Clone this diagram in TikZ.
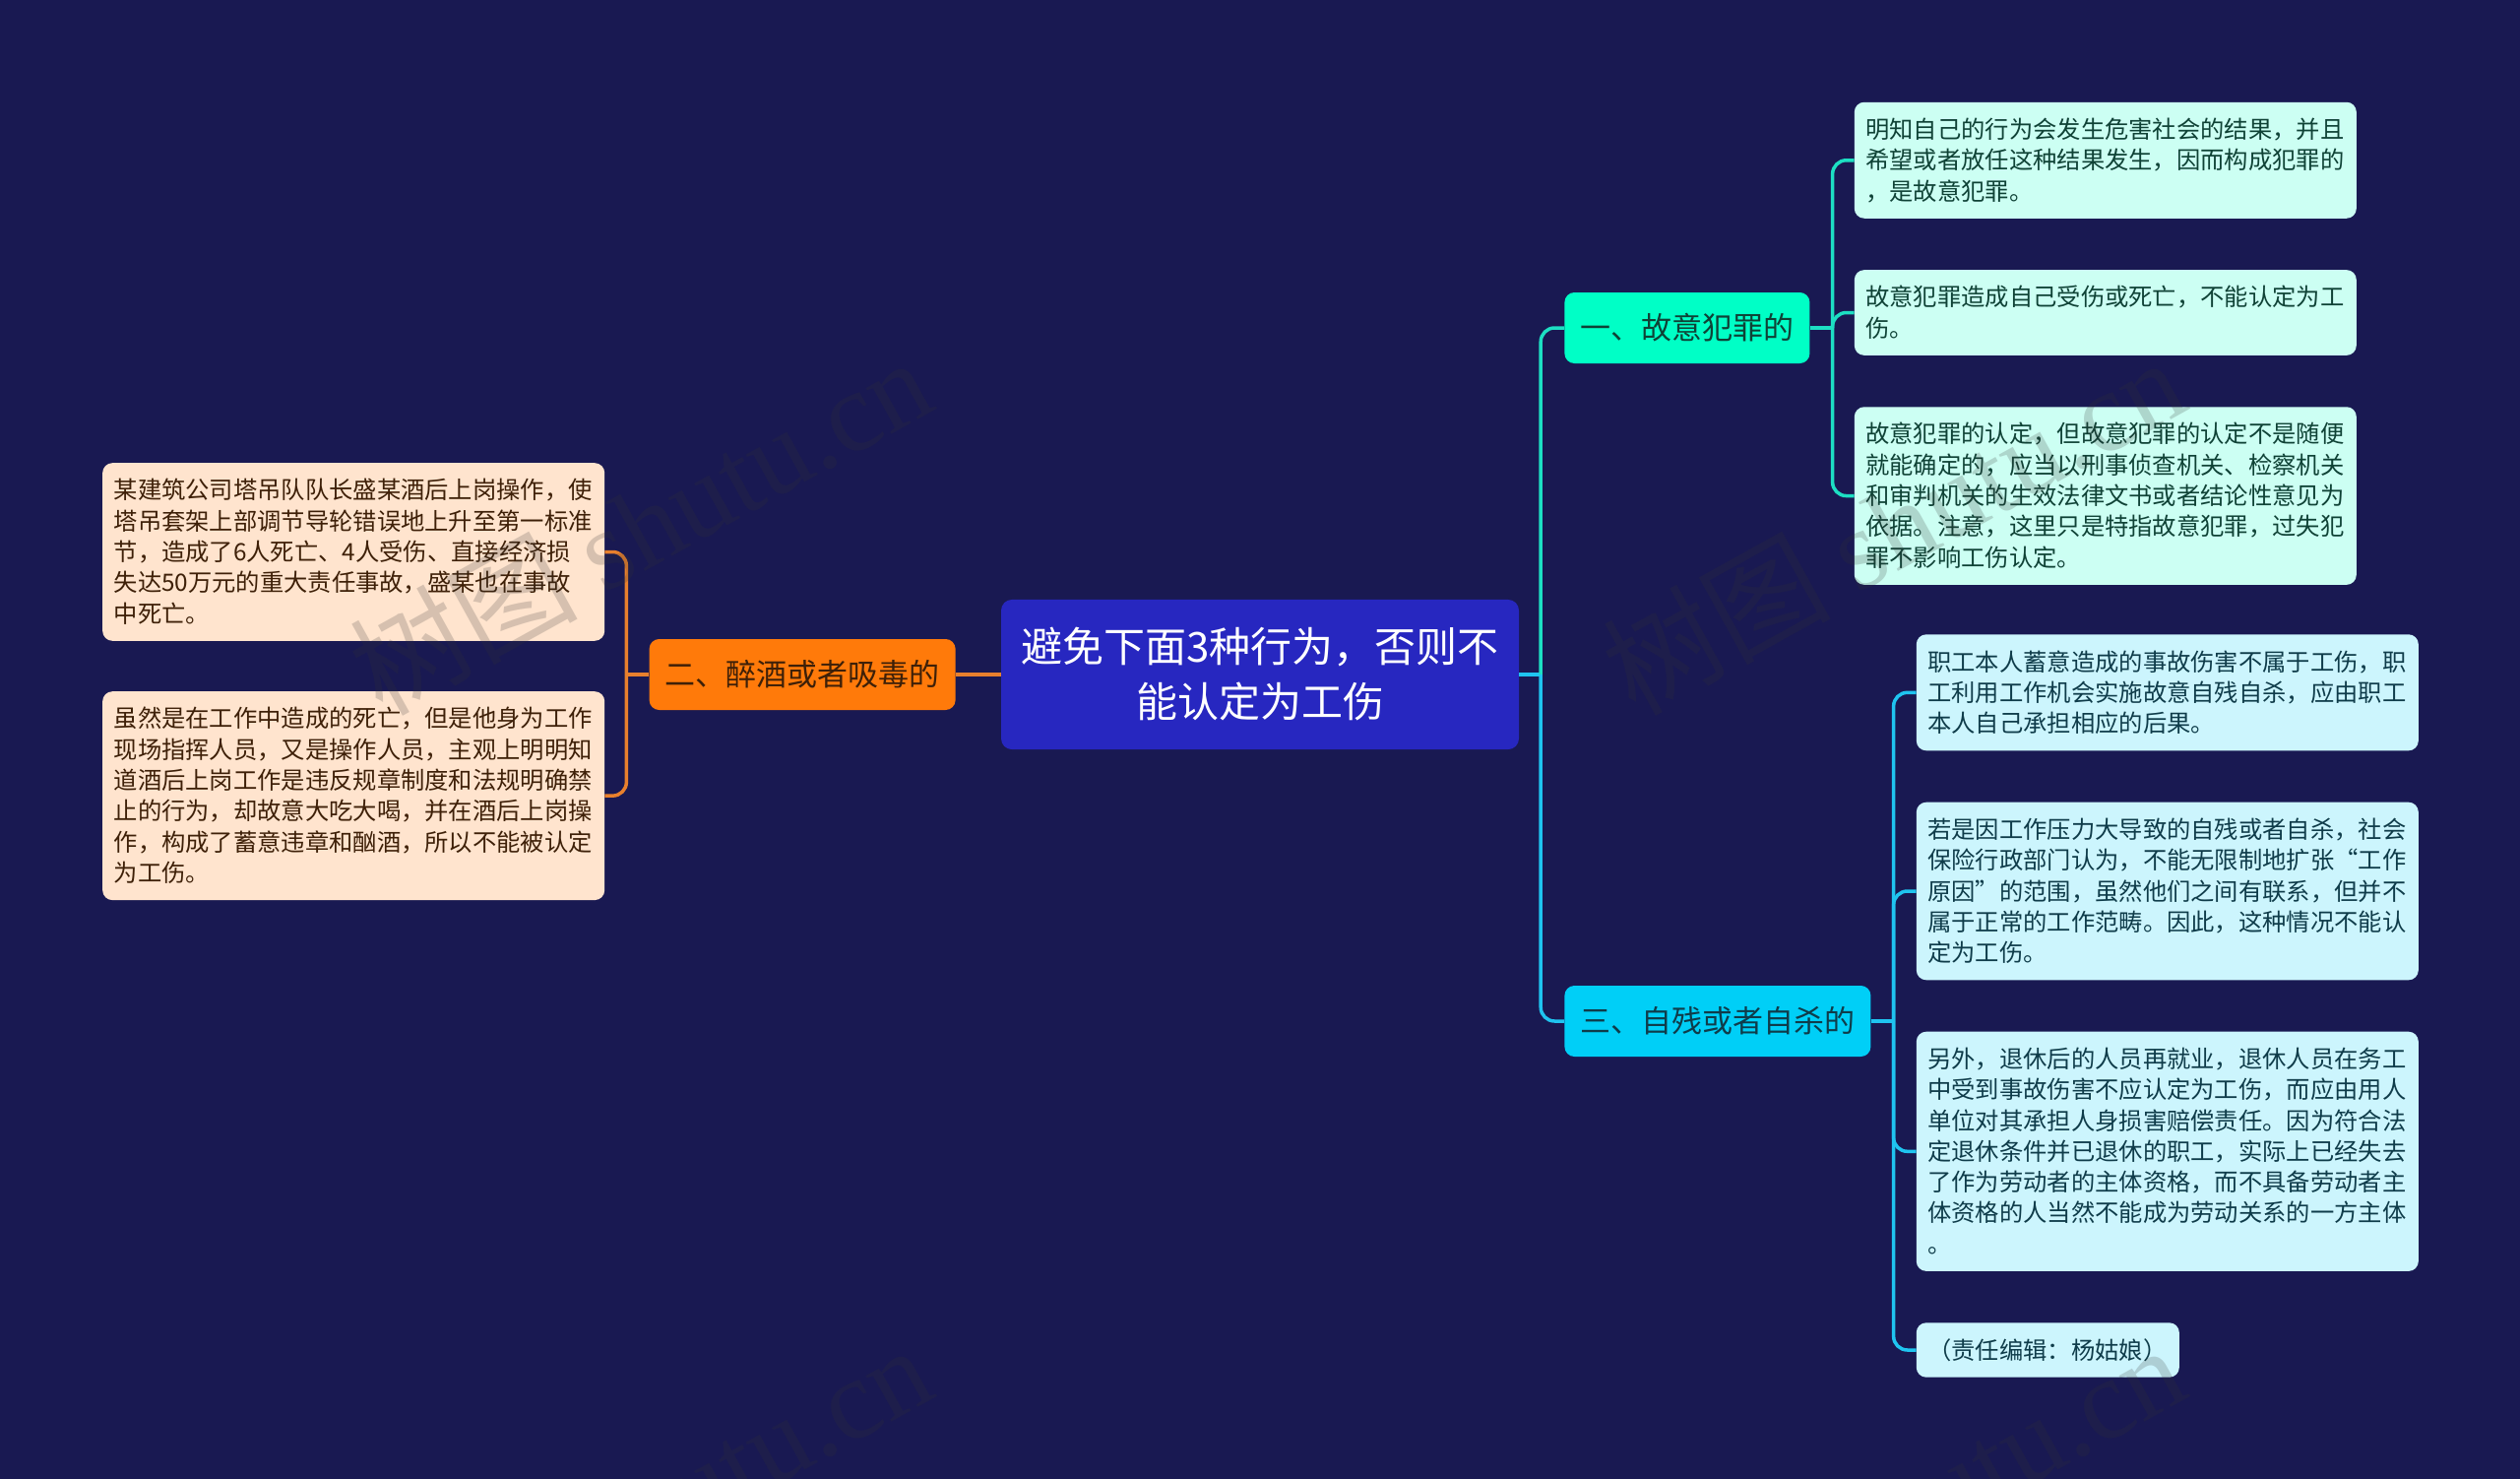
\documentclass[tikz,border=0pt]{standalone}
\usepackage{fontspec}
\usepackage{xcolor}
\setmainfont{Noto Sans CJK SC}
\newfontfamily\markfont{Liberation Serif}
\usetikzlibrary{positioning}
\definecolor{pagebg}{HTML}{191952}
\definecolor{rootfill}{HTML}{2727C0}
\definecolor{tealfill}{HTML}{00FFC6}
\definecolor{bluefill}{HTML}{00CFF7}
\definecolor{orangefill}{HTML}{FF7A0A}
\definecolor{tealleaf}{HTML}{CCFFF3}
\definecolor{blueleaf}{HTML}{CCF5FD}
\definecolor{orangeleaf}{HTML}{FFE4CE}
\definecolor{tealink}{HTML}{0F4236}
\definecolor{blueink}{HTML}{0F3C4A}
\definecolor{orangeink}{HTML}{3E2008}
\definecolor{tealline}{HTML}{1DDFC3}
\definecolor{blueline}{HTML}{1FC4F0}
\definecolor{orangeline}{HTML}{E8802D}
\definecolor{markgrey}{HTML}{333333}
\begin{document}
\begin{tikzpicture}[
  every node/.style={rounded corners=10pt},
  root/.style={fill=rootfill,text=white,align=center,text width=486pt,inner xsep=20pt,inner ysep=20.5pt,
    rounded corners=11pt,font=\fontsize{42}{55.5}\selectfont,
    execute at begin node={\rule{0pt}{43.1pt}},execute at end node={\rule[-12.5pt]{0pt}{12.5pt}}},
  branch/.style={inner xsep=16pt,inner ysep=16pt,font=\fontsize{31}{40}\selectfont,
    execute at begin node={\rule{0pt}{31.3pt}},execute at end node={\rule[-8.7pt]{0pt}{8.7pt}}},
  leaf/.style={align=left,text width=487pt,inner xsep=11.5pt,inner ysep=12pt,font=\fontsize{24.3}{31.3}\selectfont,
    execute at begin node={\rule{0pt}{24.7pt}},execute at end node={\rule[-6.7pt]{0pt}{6.7pt}}},
  teal leaf/.style={leaf,fill=tealleaf,text=tealink},
  blue leaf/.style={leaf,fill=blueleaf,text=blueink},
  orange leaf/.style={leaf,fill=orangeleaf,text=orangeink},
  link/.style={line width=3.5pt,rounded corners=14pt},
  watermark/.style={rotate=29,text=markgrey,opacity=.2,text opacity=.2,
    font=\fontsize{116}{120}\selectfont}]
  \path [fill=pagebg,use as bounding box] (0,0) rectangle (2560pt,-1502pt);
  % r-root b-branch l-leaf
  \node [root] (r) at (1280pt,-685pt) {避免下面3种行为，否则不\\能认定为工伤};
  \node [branch,fill=tealfill,text=tealink] (b1) [right=46pt of r,yshift=352pt] {一、故意犯罪的};
  \node [branch,fill=bluefill,text=blueink] (b3) [right=46pt of r,yshift=-352pt] {三、自残或者自杀的};
  \node [branch,fill=orangefill,text=orangeink] (b2) [left=46pt of r] {二、醉酒或者吸毒的};
  \node [teal leaf] (l1b) [right=45pt of b1,yshift=15.5pt] {故意犯罪造成自己受伤或死亡，不能认定为工\\伤。};
  \node [teal leaf] (l1a) [above=52pt of l1b] {明知自己的行为会发生危害社会的结果，并且\\希望或者放任这种结果发生，因而构成犯罪的\\，是故意犯罪。};
  \node [teal leaf] (l1c) [below=52pt of l1b] {故意犯罪的认定，但故意犯罪的认定不是随便\\就能确定的，应当以刑事侦查机关、检察机关\\和审判机关的生效法律文书或者结论性意见为\\依据。注意，这里只是特指故意犯罪，过失犯\\罪不影响工伤认定。};
  \node [blue leaf] (l3b) [right=46pt of b3,yshift=132pt] {若是因工作压力大导致的自残或者自杀，社会\\保险行政部门认为，不能无限制地扩张“工作\\原因”的范围，虽然他们之间有联系，但并不\\属于正常的工作范畴。因此，这种情况不能认\\定为工伤。};
  \node [blue leaf] (l3a) [above=52pt of l3b] {职工本人蓄意造成的事故伤害不属于工伤，职\\工利用工作机会实施故意自残自杀，应由职工\\本人自己承担相应的后果。};
  \node [blue leaf] (l3c) [below=52pt of l3b] {另外，退休后的人员再就业，退休人员在务工\\中受到事故伤害不应认定为工伤，而应由用人\\单位对其承担人身损害赔偿责任。因为符合法\\定退休条件并已退休的职工，实际上已经失去\\了作为劳动者的主体资格，而不具备劳动者主\\体资格的人当然不能成为劳动关系的一方主体\\。};
  \node [blue leaf,text width=244pt] (l3d) [below=52pt of l3c.south west,anchor=north west] {（责任编辑：杨姑娘）};
  \node [orange leaf] (l2a) [left=45pt of b2,yshift=124.5pt] {某建筑公司塔吊队队长盛某酒后上岗操作，使\\塔吊套架上部调节导轮错误地上升至第一标准\\节，造成了6人死亡、4人受伤、直接经济损\\失达50万元的重大责任事故，盛某也在事故\\中死亡。};
  \node [orange leaf] (l2b) [below=51pt of l2a] {虽然是在工作中造成的死亡，但是他身为工作\\现场指挥人员，又是操作人员，主观上明明知\\道酒后上岗工作是违反规章制度和法规明确禁\\止的行为，却故意大吃大喝，并在酒后上岗操\\作，构成了蓄意违章和酗酒，所以不能被认定\\为工伤。};
  \coordinate (jr) at ([xshift=22pt]r.east);
  \coordinate (jl) at ([xshift=-23pt]b2.west);
  \coordinate (j1) at ([xshift=23pt]b1.east);
  \coordinate (j3) at ([xshift=23pt]b3.east);
  \draw [link,blueline] (r.east) -- (jr);
  \draw [link,tealline] (jr) |- (b1.west);
  \draw [link,blueline] (jr) |- (b3.west);
  \draw [link,orangeline] (r.west) -- (b2.east);
  \draw [link,orangeline] (b2.west) -- (jl);
  \draw [link,tealline] (b1.east) -- (j1);
  \draw [link,blueline] (b3.east) -- (j3);
  \foreach \n in {l1a,l1b,l1c}
    \draw [link,tealline] (j1) |- (\n.west);
  \foreach \n in {l3a,l3b,l3c,l3d}
    \draw [link,blueline] (j3) |- (\n.west);
  \foreach \n in {l2a,l2b}
    \draw [link,orangeline] (jl) |- (\n.east);
  \foreach \x/\y/\m in {650/533/ma,1923/533/mb,650/1536/mc,1923/1536/md}
    \node [watermark] (\m) at (\x pt,-\y pt) {树图 {\markfont shutu.cn}};
\end{tikzpicture}
\end{document}
